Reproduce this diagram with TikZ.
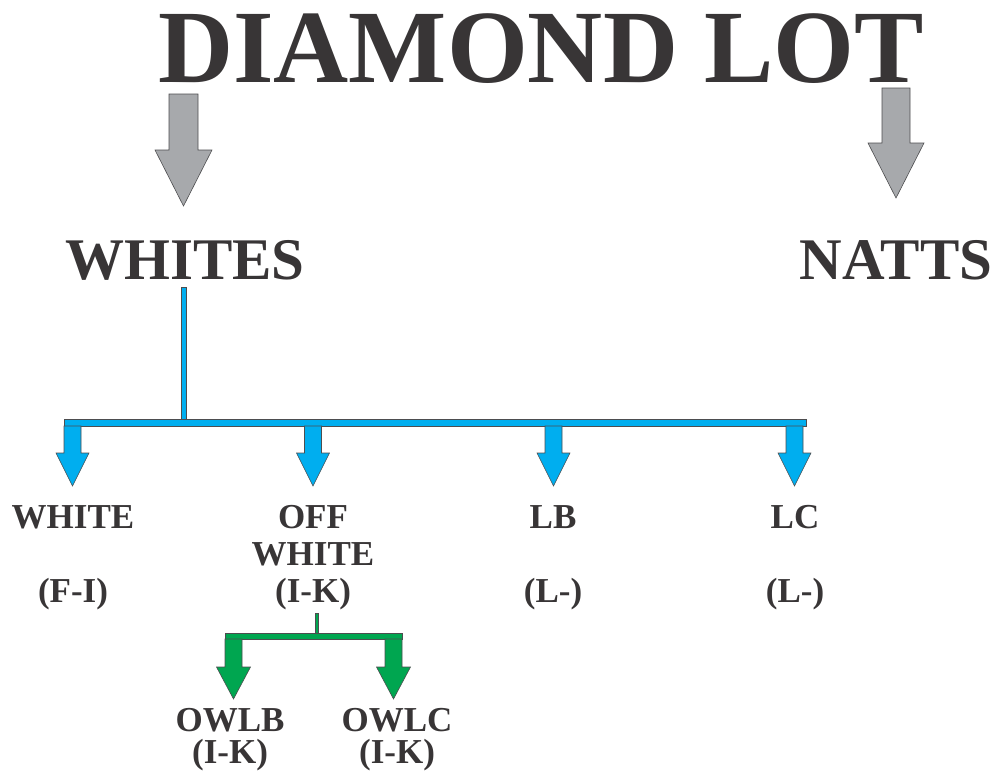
\documentclass[tikz,border=0pt]{standalone}
\usepackage{fontspec}
\setmainfont{Liberation Serif}
\usepackage{tikz}
\usetikzlibrary{positioning}

\definecolor{txtgray}{HTML}{383536}
\definecolor{arrgray}{HTML}{A7A9AC}
\definecolor{lblue}{HTML}{00AEEF}
\definecolor{lgreen}{HTML}{00A650}
\definecolor{edgegray}{HTML}{4D4D4F}

% block arrow pointing down: style, x, top y, tip y, shaft half width, head half width, head length
\newcommand{\blkarrow}[7]{%
  \filldraw[#1] (#2-#5,#3) -- (#2+#5,#3) -- (#2+#5,#4-#7) -- (#2+#6,#4-#7)
    -- (#2,#4) -- (#2-#6,#4-#7) -- (#2-#5,#4-#7) -- cycle;}

\tikzset{
  txt/.style={text=txtgray, inner sep=0pt, anchor=base},
  titlefont/.style={txt, font=\fontsize{104}{110}\selectfont\bfseries},
  headfont/.style={txt, font=\fontsize{59}{64}\selectfont\bfseries},
  lblfont/.style={txt, font=\fontsize{35}{38}\selectfont\bfseries},
  grayarrow/.style={fill=arrgray, draw=edgegray, line width=0.6pt},
  bluearrow/.style={fill=lblue, draw=edgegray, line width=0.6pt},
  greenarrow/.style={fill=lgreen, draw=edgegray, line width=0.6pt},
}

\begin{document}
\begin{tikzpicture}[x=1pt, y=-1pt]
  \useasboundingbox (0,0) rectangle (996,772);
  % headings
  \node[titlefont] (title) at (541,82) {DIAMOND LOT};
  \node[headfont] (whites) at (185,279) {WHITES};
  \node[headfont] (natts) at (896,279) {NATTS};
  % gray arrows from title
  \blkarrow{grayarrow}{183.5}{94}{206}{14.5}{28.5}{56}
  \blkarrow{grayarrow}{896}{88}{198}{14}{28}{55}
  % blue tree under WHITES
  \coordinate (wstem) at (183.5,287);
  \filldraw[fill=lblue, draw=edgegray, line width=0.4pt] ([xshift=-2.5pt]wstem) rectangle (186,419.5);
  \filldraw[bluearrow] (64,419.5) rectangle (806,426);
  \foreach \x in {72.5, 313, 553.5, 794.5} {
    \blkarrow{bluearrow}{\x}{426}{486}{8.5}{16.5}{33}
  }
  % labels of the four grades
  \node[lblfont] (white) at (73,528) {WHITE};
  \node[lblfont] (whiterng) at (73,602) {(F-I)};
  \node[lblfont] (off) at (313,528) {OFF};
  \node[lblfont] (offwhite) at (313,565) {WHITE};
  \node[lblfont] (offrng) at (313,602) {(I-K)};
  \node[lblfont] (lb) at (553,528) {LB};
  \node[lblfont] (lbrng) at (553,602) {(L-)};
  \node[lblfont] (lc) at (795,528) {LC};
  \node[lblfont] (lcrng) at (795,602) {(L-)};
  % green tree under OFF WHITE
  \filldraw[fill=lgreen, draw=edgegray, line width=0.4pt] (315,613) rectangle (318,633);
  \filldraw[greenarrow] (225,633) rectangle (402,639);
  \foreach \x in {233.5, 393.5} {
    \blkarrow{greenarrow}{\x}{639}{699}{8.5}{17}{32}
  }
  \node[lblfont] (owlb) at (230,731) {OWLB};
  \node[lblfont] (owlbrng) at (230,763) {(I-K)};
  \node[lblfont] (owlc) at (397,731) {OWLC};
  \node[lblfont] (owlcrng) at (397,763) {(I-K)};
\end{tikzpicture}
\end{document}
